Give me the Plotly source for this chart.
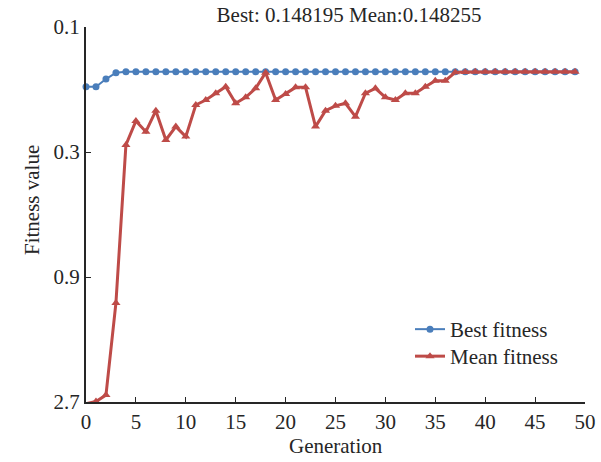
import numpy as np
import plotly.graph_objects as go

generations = list(range(50))
best_fitness = [0.169, 0.169, 0.158, 0.1495] + [0.148195] * 46
mean_fitness = [2.74, 2.69, 2.54, 1.13, 0.282, 0.2285, 0.251, 0.2087, 0.270, 0.240,
                0.262, 0.1985, 0.190, 0.179, 0.169, 0.1955, 0.1856, 0.1714, 0.1494, 0.190,
                0.180, 0.170, 0.170, 0.240, 0.2087, 0.200, 0.1955, 0.220, 0.179, 0.1714,
                0.1856, 0.190, 0.179, 0.179, 0.169, 0.1604, 0.1604, 0.1490, 0.1484, 0.14826,
                0.14826, 0.14826, 0.14826, 0.14826, 0.14826, 0.14826, 0.14826, 0.14826, 0.14826, 0.148255]
y_ticks = [0.1, 0.3, 0.9, 2.7]
y_ticktext = ["0.1", "0.3", "0.9", "2.7"]
x_ticks = list(range(0, 51, 5))
title_text = "Best: 0.148195 Mean:0.148255"
x_title = "Generation"
y_title = "Fitness value"

BLUE = "#4a7ebb"
RED = "#be4b48"
FONT = "Liberation Serif, Times New Roman, serif"
W, H = 601, 462
L, R, T, B = 86, 16, 27, 60
PW, PH = W - L - R, H - T - B

fig = go.Figure()
fig.add_trace(go.Scatter(
    x=generations, y=best_fitness, mode="lines+markers", name="Best fitness",
    line=dict(color=BLUE, width=2), marker=dict(symbol="circle", size=7, color=BLUE),
    cliponaxis=False, legend="legend"))
fig.add_trace(go.Scatter(
    x=generations, y=mean_fitness, mode="lines+markers", name="Mean fitness",
    line=dict(color=RED, width=3), marker=dict(symbol="triangle-up", size=8, color=RED),
    cliponaxis=False, legend="legend2"))

leg_common = dict(xanchor="left", yanchor="top", bgcolor="rgba(0,0,0,0)",
                  font=dict(size=21), itemwidth=30)

fig.update_layout(
    width=W, height=H,
    margin=dict(l=L, r=R, t=T, b=B, autoexpand=False),
    paper_bgcolor="white", plot_bgcolor="white",
    font=dict(family=FONT, size=21, color="#262626"),
    showlegend=True,
    legend=dict(x=(410 - L) / PW, y=(H - B - 309) / PH, **leg_common),
    legend2=dict(x=(410 - L) / PW, y=(H - B - 336) / PH, **leg_common),
    title=dict(text=title_text, x=349 / W, xanchor="center", y=1 - 15 / H, yanchor="middle",
               xref="container", yref="container", font=dict(size=21)),
    annotations=[
        dict(text=x_title, x=(336 - L) / PW, y=-(446 - (H - B)) / PH,
             xref="paper", yref="paper", xanchor="center", yanchor="middle",
             showarrow=False, font=dict(size=21)),
        dict(text=y_title, x=-(L - 32) / PW, y=(H - B - 200) / PH,
             xref="paper", yref="paper", xanchor="center", yanchor="middle",
             textangle=-90, showarrow=False, font=dict(size=21)),
    ],
)
fig.update_xaxes(
    range=[0, 50], tickvals=x_ticks, ticks="inside", ticklen=5, tickwidth=1,
    tickcolor="#262626", showline=True, linecolor="#262626", linewidth=2,
    showgrid=False, zeroline=False, mirror=False, automargin=False)
fig.update_yaxes(
    type="log", range=[np.log10(2.7), np.log10(0.1)],
    tickvals=y_ticks, ticktext=y_ticktext, ticks="inside", ticklen=5, tickwidth=1,
    tickcolor="#262626", showline=True, linecolor="#262626", linewidth=2,
    showgrid=False, zeroline=False, mirror=False, automargin=False)

fig.write_html("out.html", config={"displayModeBar": False},
               post_script="document.body.style.margin='0px';")
